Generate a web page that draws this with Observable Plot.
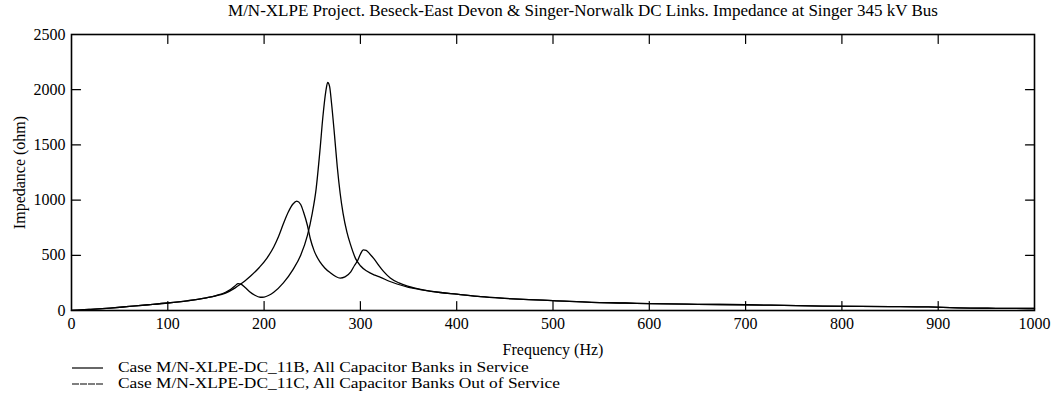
<!DOCTYPE html>
<html><head><meta charset="utf-8">
<script src="https://cdn.jsdelivr.net/npm/d3@7"></script>
<script src="https://cdn.jsdelivr.net/npm/@observablehq/plot@0.6"></script>
<style>
body{margin:0;background:#fff;font-family:"Liberation Serif","Times New Roman",serif;color:#000;}
#title{width:1053px;box-sizing:border-box;height:22px;line-height:22px;font-size:17px;text-align:center;padding-left:113px;white-space:nowrap;}
#chart{height:338px;}
#legend{font-size:14px;}
.item{display:flex;align-items:center;height:16px;padding-left:72px;}
.item svg{margin-right:15px;flex:none;}
.item span{display:inline-block;transform:scaleX(1.24);transform-origin:left center;white-space:nowrap;line-height:16px;}
</style></head><body>
<div id="title">M/N-XLPE Project. Beseck-East Devon &amp; Singer-Norwalk DC Links. Impedance at Singer 345 kV Bus</div>
<div id="chart"></div>
<div id="legend"></div>
<script>
// Case 11B (all capacitor banks in service)
const freq11B = [0,10,20,40,60,80,100,120,140,150,160,170,175,180,186,195,203,210,215,220,225,230,234,238,241,245,248,252,258,263,269,274,279,284,290,294,297,300,303,306,310,314,319,324,331,340,349,366,383,400,425,450,475,500,540,575,600,650,700,740,780,850,890,920,960,1000];
const imp11B  = [2,5,10,22,37,52,68,88,115,132,158,205,235,268,312,390,475,575,670,785,890,965,990,960,890,770,650,540,440,385,340,310,294,305,350,410,450,510,550,545,510,470,410,355,295,250,220,185,163,148,125,110,98,90,74,68,62,56,52,46,40,36,32,24,20,18];
// Case 11C (all capacitor banks out of service)
const freq11C = [0,10,20,40,60,80,100,120,140,150,160,165,170,173,176,180,185,190,196,200,205,210,220,230,238,245,250,254,258,261,264,266,268,270,273,276,279,282,286,290,295,300,307,315,321,330,338,350,362,383,400,425,450,475,500,540,575,600,650,700,740,780,850,890,920,960,1000];
const imp11C  = [2,5,10,22,37,52,68,88,115,135,165,190,225,243,238,210,170,140,120,122,138,165,250,370,500,680,880,1100,1450,1750,1980,2065,2030,1880,1600,1300,1060,880,710,590,470,405,355,320,300,265,240,210,190,163,148,125,110,98,90,74,68,62,56,52,46,40,36,32,24,20,18];
const seriesNames = ["Case M/N-XLPE-DC_11B, All Capacitor Banks in Service","Case M/N-XLPE-DC_11C, All Capacitor Banks Out of Service"];
const xTicks = [0,100,200,300,400,500,600,700,800,900,1000];
const yTicks = [0,500,1000,1500,2000,2500];

const dataB = freq11B.map((f,i)=>({f, z: imp11B[i]}));
const dataC = freq11C.map((f,i)=>({f, z: imp11C[i]}));
const tickShape = {draw(ctx, l){ctx.moveTo(0,0); ctx.lineTo(0,-l);}};
const inner = xTicks.slice(1,-1), innerY = yTicks.slice(1,-1);
const TL = 9;

const chart = Plot.plot({
  width:1053, height:338, marginLeft:71, marginRight:19, marginTop:12, marginBottom:50,
  style:{fontFamily:"Liberation Serif, serif", fontSize:"16px", color:"black", background:"white"},
  x:{domain:[0,1000]}, y:{domain:[0,2500]},
  marks:[
    Plot.axisX(xTicks,{tickSize:0, tickPadding:7, tickFormat:d=>String(d), label:"Frequency (Hz)", labelAnchor:"center", labelOffset:44, labelArrow:"none"}),
    Plot.axisY(yTicks,{tickSize:0, tickPadding:6, tickFormat:d=>String(d), label:"Impedance (ohm)", labelAnchor:"center", labelOffset:58, labelArrow:"none"}),
    Plot.vector(inner,{x:d=>d, y:0, length:TL, rotate:0, anchor:"start", shape:tickShape, stroke:"black", strokeWidth:1.2}),
    Plot.vector(inner,{x:d=>d, y:2500, length:TL, rotate:180, anchor:"start", shape:tickShape, stroke:"black", strokeWidth:1.2}),
    Plot.vector(innerY,{x:0, y:d=>d, length:TL, rotate:90, anchor:"start", shape:tickShape, stroke:"black", strokeWidth:1.2}),
    Plot.vector(innerY,{x:1000, y:d=>d, length:TL, rotate:270, anchor:"start", shape:tickShape, stroke:"black", strokeWidth:1.2}),
    Plot.line(dataB,{x:"f", y:"z", stroke:"black", strokeWidth:1.3, curve:"monotone-x"}),
    Plot.line(dataC,{x:"f", y:"z", stroke:"black", strokeWidth:1.3, curve:"monotone-x"}),
    Plot.frame({stroke:"black", strokeWidth:1.6})
  ]
});
document.getElementById("chart").appendChild(chart);

const legend = document.getElementById("legend");
seriesNames.forEach((name,i)=>{
  const div = document.createElement("div");
  div.className = "item";
  div.innerHTML = `<svg width="31" height="6"><line x1="0" x2="31" y1="3" y2="3" stroke="black" stroke-width="1.2" ${i===1?'stroke-dasharray="7,1"':''}/></svg><span>${name}</span>`;
  legend.appendChild(div);
});
</script>
</body></html>
